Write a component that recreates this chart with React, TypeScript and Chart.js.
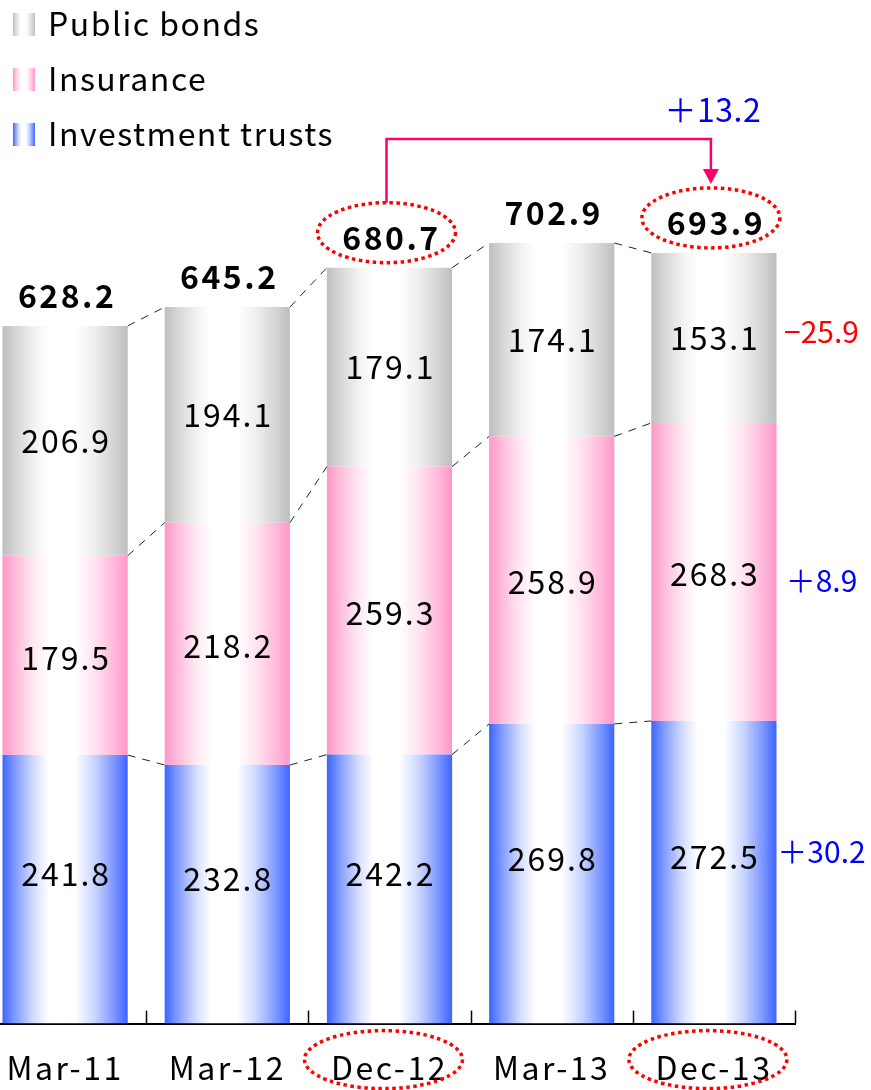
import React, { useEffect, useRef } from 'react';
import { Chart, registerables } from 'chart.js';

Chart.register(...registerables);

// ---------- data ----------
const CATEGORIES = ['Mar-11', 'Mar-12', 'Dec-12', 'Mar-13', 'Dec-13'];
const INVESTMENT_TRUSTS = [241.8, 232.8, 242.2, 269.8, 272.5];
const INSURANCE = [179.5, 218.2, 259.3, 258.9, 268.3];
const PUBLIC_BONDS = [206.9, 194.1, 179.1, 174.1, 153.1];
const TOTALS = [628.2, 645.2, 680.7, 702.9, 693.9];
const SERIES_LABELS = ['Investment trusts', 'Insurance', 'Public bonds'];
const SERIES_CHANGES = ['＋30.2', '＋8.9', '−25.9'];
const TOTAL_CHANGE = '＋13.2';
const HIGHLIGHTED = [2, 4];

// ---------- style ----------
const FONT = '"Noto Sans CJK JP", "Noto Sans", sans-serif';
const BLUE: [number, number, number] = [60, 100, 255];
const PINK: [number, number, number] = [255, 150, 200];
const GRAY: [number, number, number] = [190, 190, 190];
const SERIES_COLORS = [BLUE, PINK, GRAY];
const CHANGE_COLORS = ['#0000FF', '#0000FF', '#FF0000'];
const BAR_PCT = 0.772;
const SHIFT_X = 16;
const CANVAS_W = 887;
const CANVAS_H = 1112;

function mix(c: [number, number, number], t: number) {
  const r = Math.round(c[0] + (255 - c[0]) * t);
  const g = Math.round(c[1] + (255 - c[1]) * t);
  const b = Math.round(c[2] + (255 - c[2]) * t);
  return `rgb(${r},${g},${b})`;
}

function barGradient(ctx: CanvasRenderingContext2D, x0: number, x1: number, c: [number, number, number]) {
  const g = ctx.createLinearGradient(x0, 0, x1, 0);
  const stops: [number, number][] = [
    [0, 0], [0.1, 0.35], [0.25, 0.78], [0.37, 1], [0.58, 1], [0.74, 0.72], [0.9, 0.3], [1, 0],
  ];
  stops.forEach(([p, t]) => g.addColorStop(p, mix(c, t)));
  return g;
}

const overlayPlugin = {
  id: 'overlay',
  beforeDraw(chart: any) {
    chart.ctx.letterSpacing = '2.5px';
  },
  afterDatasetsDraw(chart: any) {
    const ctx: CanvasRenderingContext2D = chart.ctx;
    const n = CATEGORIES.length;
    const metas = chart.data.datasets.map((_: any, i: number) => chart.getDatasetMeta(i));
    const xs = chart.scales.x;
    const barW = (xs.width / n) * BAR_PCT;

    // dashed connectors
    ctx.save();
    ctx.letterSpacing = '0px';
    ctx.strokeStyle = '#222';
    ctx.lineWidth = 1;
    ctx.setLineDash([8, 7]);
    metas.forEach((meta: any) => {
      for (let i = 0; i < n - 1; i++) {
        const a = meta.data[i];
        const b = meta.data[i + 1];
        ctx.beginPath();
        ctx.moveTo(a.x + barW / 2, a.y);
        ctx.lineTo(b.x - barW / 2, b.y);
        ctx.stroke();
      }
    });
    ctx.restore();

    // segment labels
    ctx.save();
    ctx.letterSpacing = '2px';
    ctx.fillStyle = '#000';
    ctx.textAlign = 'center';
    ctx.textBaseline = 'middle';
    ctx.font = `32px ${FONT}`;
    const offsets = [-15, 2, 0];
    const changeOffsets = [-6, 7, -6];
    metas.forEach((meta: any, d: number) => {
      const values = chart.data.datasets[d].data;
      meta.data.forEach((el: any, i: number) => {
        const y = (el.y + el.base) / 2 + offsets[d];
        ctx.fillText(values[i].toFixed(1), el.x + 1, y);
      });
      // change labels on the right of the last bar
      const last = meta.data[n - 1];
      const y = (last.y + last.base) / 2 + offsets[d] + changeOffsets[d];
      ctx.save();
      ctx.font = `30px ${FONT}`;
      ctx.letterSpacing = '0px';
      ctx.fillStyle = CHANGE_COLORS[d];
      ctx.fillText(SERIES_CHANGES[d], last.x + barW / 2 + 45, y);
      ctx.restore();
    });

    // totals
    const top = metas[metas.length - 1];
    ctx.font = `bold 32px ${FONT}`;
    ctx.letterSpacing = '2.5px';
    top.data.forEach((el: any, i: number) => {
      ctx.fillText(TOTALS[i].toFixed(1), el.x + 2, el.y - 30);
    });
    ctx.restore();

    // ovals around highlighted totals and axis labels + arrow
    ctx.save();
    ctx.strokeStyle = '#FF0000';
    ctx.lineWidth = 3.5;
    ctx.setLineDash([3.5, 3.5]);
    const axisY = chart.chartArea.bottom;
    HIGHLIGHTED.forEach((i) => {
      const el = top.data[i];
      ctx.beginPath();
      ctx.ellipse(el.x - 3, el.y - 35, 69, 30, 0, 0, Math.PI * 2);
      ctx.stroke();
      ctx.beginPath();
      ctx.ellipse(el.x - 6, axisY + 36, 79, 29, 0, 0, Math.PI * 2);
      ctx.stroke();
    });
    ctx.restore();

    const a = top.data[HIGHLIGHTED[0]];
    const b = top.data[HIGHLIGHTED[1]];
    const ax = a.x - 3;
    const bx = b.x - 3;
    const lineY = 139;
    const startY = a.y - 35 - 30;
    const tipY = b.y - 35 - 30 - 4;
    ctx.save();
    ctx.strokeStyle = 'rgb(255,0,102)';
    ctx.fillStyle = 'rgb(255,0,102)';
    ctx.lineWidth = 2.5;
    ctx.beginPath();
    ctx.moveTo(ax, startY);
    ctx.lineTo(ax, lineY);
    ctx.lineTo(bx, lineY);
    ctx.lineTo(bx, tipY - 12);
    ctx.stroke();
    ctx.beginPath();
    ctx.moveTo(bx - 8, tipY - 15);
    ctx.lineTo(bx + 8, tipY - 15);
    ctx.lineTo(bx, tipY);
    ctx.closePath();
    ctx.fill();
    ctx.font = `32px ${FONT}`;
    ctx.letterSpacing = '0.5px';
    ctx.fillStyle = '#0000FF';
    ctx.textAlign = 'center';
    ctx.textBaseline = 'middle';
    ctx.fillText(TOTAL_CHANGE, bx + 2, 110);
    ctx.restore();
  },
  afterDraw(chart: any) {
    const ctx: CanvasRenderingContext2D = chart.ctx;
    const xs = chart.scales.x;
    const n = CATEGORIES.length;
    const catW = xs.width / n;
    const axisY = chart.chartArea.bottom;

    // inward tick marks at category boundaries
    ctx.save();
    ctx.strokeStyle = '#000';
    ctx.lineWidth = 1.5;
    for (let i = 0; i <= n; i++) {
      const x = Math.round(xs.left + catW * i) + 0.5;
      ctx.beginPath();
      ctx.moveTo(x, axisY);
      ctx.lineTo(x, axisY - 13);
      ctx.stroke();
    }
    ctx.restore();

    // legend (top-left, reversed order)
    ctx.save();
    ctx.letterSpacing = '1.5px';
    ctx.font = `32px ${FONT}`;
    ctx.textBaseline = 'middle';
    ctx.textAlign = 'left';
    const datasets = chart.data.datasets;
    for (let k = 0; k < datasets.length; k++) {
      const d = datasets.length - 1 - k;
      const bx = 13 + SHIFT_X;
      const by = 13 + 55 * k;
      ctx.fillStyle = barGradient(ctx, bx, bx + 22, SERIES_COLORS[d]);
      ctx.fillRect(bx, by, 22, 23);
      ctx.fillStyle = '#000';
      ctx.fillText(datasets[d].label, 48 + SHIFT_X, by + 11);
    }
    ctx.restore();
    ctx.letterSpacing = '0px';
  },
};

export default function App() {
  const ref = useRef<HTMLCanvasElement | null>(null);

  useEffect(() => {
    if (!ref.current) return;
    const seriesData = [INVESTMENT_TRUSTS, INSURANCE, PUBLIC_BONDS];
    const chart = new Chart(ref.current, {
      type: 'bar',
      data: {
        labels: CATEGORIES,
        datasets: seriesData.map((data, d) => ({
          label: SERIES_LABELS[d],
          data,
          borderWidth: 0,
          barPercentage: BAR_PCT,
          categoryPercentage: 1,
          backgroundColor: (c: any) => {
            const xs = c.chart.scales && c.chart.scales.x;
            const col = SERIES_COLORS[d];
            if (!xs || c.dataIndex == null || !(xs.width > 0)) return mix(col, 0);
            const cx = xs.getPixelForValue(c.dataIndex);
            const w = (xs.width / CATEGORIES.length) * BAR_PCT;
            return barGradient(c.chart.ctx, cx - w / 2, cx + w / 2, col);
          },
        })),
      },
      options: {
        responsive: false,
        animation: false,
        devicePixelRatio: 1,
        events: [],
        layout: { padding: { left: 0, right: CANVAS_W - SHIFT_X - 795, top: 24, bottom: 0 } },
        scales: {
          x: {
            stacked: true,
            offset: true,
            grid: { display: false, drawTicks: false, tickLength: 0 },
            border: { display: true, color: '#000', width: 2 },
            ticks: {
              color: '#000',
              font: { family: FONT, size: 32 },
              padding: 25,
              maxRotation: 0,
              minRotation: 0,
              autoSkip: false,
            },
          },
          y: {
            stacked: true,
            display: false,
            min: 0,
            max: 900,
          },
        },
        plugins: {
          legend: { display: false },
          tooltip: { enabled: false },
        },
      },
      plugins: [overlayPlugin],
    });
    return () => chart.destroy();
  }, []);

  return (
    <canvas
      ref={ref}
      width={CANVAS_W}
      height={CANVAS_H}
      style={{ position: 'fixed', left: -SHIFT_X, top: 0, width: CANVAS_W, height: CANVAS_H }}
    />
  );
}
